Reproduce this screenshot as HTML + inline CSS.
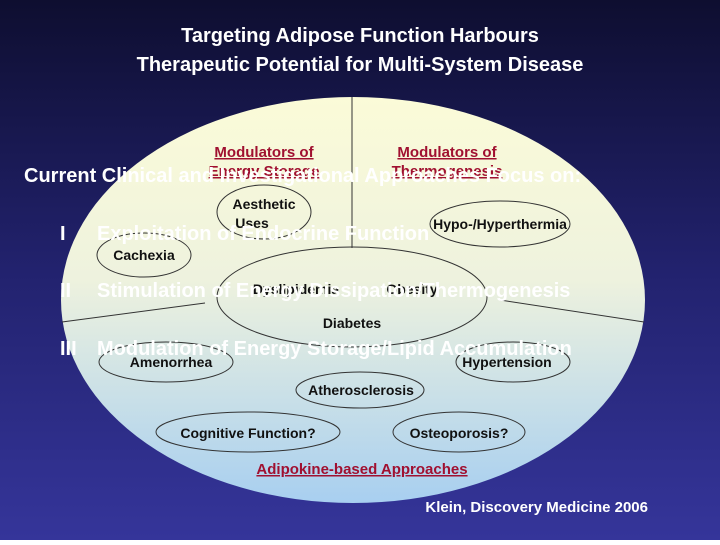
<!DOCTYPE html>
<html><head><meta charset="utf-8"><style>
body{margin:0;width:720px;height:540px;overflow:hidden;font-family:"Liberation Sans",sans-serif}
</style></head><body>
<svg width="720" height="540" xmlns="http://www.w3.org/2000/svg" font-family="Liberation Sans, sans-serif" font-weight="bold">
<defs>
<linearGradient id="bg" x1="0" y1="0" x2="0" y2="1">
<stop offset="0" stop-color="#0e0e30"/><stop offset="0.5" stop-color="#22226e"/><stop offset="1" stop-color="#35359a"/></linearGradient>
<linearGradient id="el" x1="0" y1="0" x2="0" y2="1">
<stop offset="0" stop-color="#fbfbd8"/><stop offset="0.45" stop-color="#eef2de"/><stop offset="1" stop-color="#a8cff0"/></linearGradient>
</defs>
<rect width="720" height="540" fill="url(#bg)"/>
<ellipse cx="353" cy="300" rx="292" ry="203" fill="url(#el)"/>
<g fill="none" stroke="#333" stroke-width="1">
<line x1="352" y1="97" x2="352" y2="248"/>
<line x1="205" y1="303" x2="62" y2="322"/>
<line x1="500" y1="300" x2="644" y2="322"/>
<ellipse cx="352" cy="297" rx="135" ry="50"/>
<ellipse cx="264" cy="212" rx="47" ry="27"/>
<ellipse cx="144" cy="255" rx="47" ry="22"/>
<ellipse cx="500" cy="224" rx="70" ry="23"/>
<ellipse cx="166" cy="362" rx="67" ry="20"/>
<ellipse cx="513" cy="362" rx="57" ry="20"/>
<ellipse cx="360" cy="390" rx="64" ry="18"/>
<ellipse cx="248" cy="432" rx="92" ry="20"/>
<ellipse cx="459" cy="432" rx="66" ry="20"/>
</g>
<g fill="#111" font-size="14" text-anchor="middle">
<text x="264" y="209">Aesthetic</text><text x="252" y="228">Uses</text>
<text x="144" y="260">Cachexia</text>
<text x="500" y="229">Hypo-/Hyperthermia</text>
<text x="296" y="294">Dyslipidemia</text><text x="412" y="294">Obesity</text>
<text x="352" y="328">Diabetes</text>
<text x="171" y="367">Amenorrhea</text>
<text x="507" y="367">Hypertension</text>
<text x="361" y="395">Atherosclerosis</text>
<text x="248" y="438">Cognitive Function?</text>
<text x="459" y="438">Osteoporosis?</text>
</g>
<g fill="#a01030" font-size="15" text-anchor="middle" text-decoration="underline">
<text x="264" y="157">Modulators of</text><text x="264" y="176">Energy Storage</text>
<text x="447" y="157">Modulators of</text><text x="447" y="176">Thermogenesis</text>
<text x="362" y="474">Adipokine-based Approaches</text>
</g>
<g fill="#fff" font-size="20">
<text x="360" y="42" text-anchor="middle">Targeting Adipose Function Harbours</text>
<text x="360" y="71" text-anchor="middle">Therapeutic Potential for Multi-System Disease</text>
<text x="24" y="182">Current Clinical and Investigational Approaches Focus on:</text>
<text x="60" y="240">I</text><text x="97" y="240">Exploitation of Endocrine Function</text>
<text x="60" y="297">II</text><text x="97" y="297">Stimulation of Energy Dissipation/Thermogenesis</text>
<text x="60" y="355">III</text><text x="97" y="355">Modulation of Energy Storage/Lipid Accumulation</text>
<text x="648" y="512" font-size="15" text-anchor="end">Klein, Discovery Medicine 2006</text>
</g>
</svg>
</body></html>
